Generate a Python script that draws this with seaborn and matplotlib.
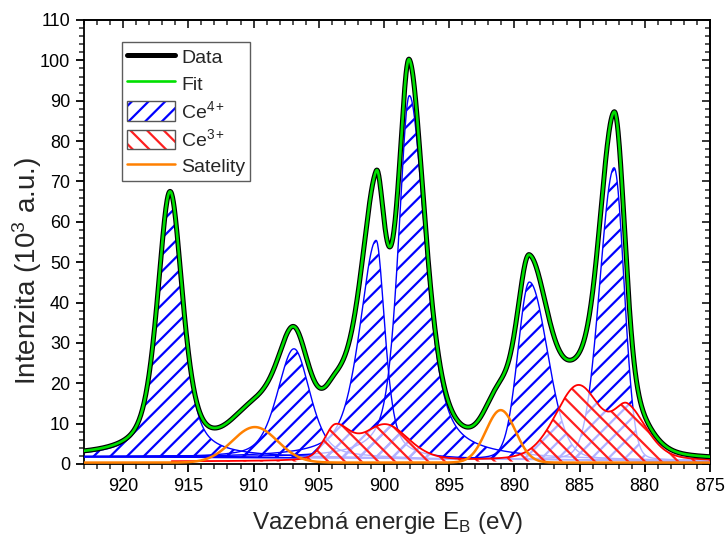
import numpy as np
import pandas as pd
import matplotlib
matplotlib.use("Agg")
import matplotlib.pyplot as plt
import seaborn as sns
from matplotlib.lines import Line2D
from matplotlib.patches import Patch
from matplotlib.legend_handler import HandlerTuple
from matplotlib.ticker import MultipleLocator, NullFormatter

# ---------------- data ----------------
# Ce4+ components (u''', u'', u, v''', v'', v): centre (eV), height (10^3 a.u.),
# half widths on the high-BE / low-BE side, Lorentzian fraction
ce4_center = [916.4, 906.9, 900.6, 898.05, 888.85, 882.35]
ce4_height = [65.0, 27.0, 54.0, 90.0, 44.0, 72.5]
ce4_hw_high = [1.15, 1.5, 1.5, 1.0, 1.05, 1.3]
ce4_hw_low = [1.15, 1.45, 0.8, 1.45, 1.65, 0.9]
ce4_eta = [0.58, 0.45, 0.6, 0.6, 0.15, 0.1]

# Ce3+ components (u', u0, v', v0)
ce3_center = [903.75, 899.9, 885.1, 881.3]
ce3_height = [8.0, 8.9, 18.6, 11.7]
ce3_hw_high = [1.0, 2.1, 2.1, 1.2]
ce3_hw_low = [1.3, 2.1, 2.1, 1.75]
ce3_eta = [0.3, 0.3, 0.3, 0.3]

# satellites
sat_center = [909.9, 891.05]
sat_height = [8.8, 13.0]
sat_hw = [2.05, 1.33]

# baselines
bg_low_be, bg_high_be = 0.8, 1.75   # Shirley end points (875 / 923 eV)
ce3_base = 0.6
sat_base = 0.35
ce3_limit = 916.3

x_ticks = [920, 915, 910, 905, 900, 895, 890, 885, 880, 875]
y_ticks = list(range(0, 111, 10))

# ---------------- model curves ----------------
E = np.linspace(923, 875, 1500)


def pv(e, c, h, wh, wl, eta):
    w = np.where(e >= c, wh, wl)
    x = (e - c) / w
    return h * (eta / (1 + x ** 2) + (1 - eta) * np.exp(-np.log(2) * x ** 2))


ce4 = [pv(E, *p) for p in zip(ce4_center, ce4_height, ce4_hw_high, ce4_hw_low, ce4_eta)]
ce3 = [pv(E, *p) for p in zip(ce3_center, ce3_height, ce3_hw_high, ce3_hw_low, ce3_eta)]
sat = [pv(E, c, h, w, w, 0.0) for c, h, w in zip(sat_center, sat_height, sat_hw)]

peaks = np.sum(ce4, axis=0) + np.sum(ce3, axis=0) + np.sum(sat, axis=0)
# Shirley-type background (integral from the low-BE side)
cum = np.cumsum(peaks[::-1])[::-1]
bg = bg_low_be + (bg_high_be - bg_low_be) * cum / cum[0]

fit = bg + peaks
data = fit.copy()
ce3_sum = np.sum(ce3, axis=0)
ce3_curve = np.where(E <= ce3_limit, ce3_base + ce3_sum, np.nan)
sat_curve = sat_base + np.sum(sat, axis=0)

# ---------------- styling ----------------
sns.set_theme(style="ticks")
plt.rcParams["font.family"] = ["Liberation Sans", "DejaVu Sans"]
plt.rcParams["mathtext.fontset"] = "custom"
plt.rcParams["mathtext.rm"] = "Liberation Sans"
plt.rcParams["mathtext.it"] = "Liberation Sans:italic"
plt.rcParams["hatch.linewidth"] = 1.6

BLUE = "#0000ff"
RED = "#ff2020"
ORANGE = "#ff8000"
GREEN = "#00e000"

fig = plt.figure(figsize=(7.25, 5.36), dpi=100)
ax = fig.add_axes([84 / 725, 1 - 464 / 536, (710 - 84) / 725, (464 - 20) / 536])

# Ce4+ components: hatched, outlined
for comp in ce4:
    top = bg + comp
    ax.fill_between(E, bg, top, where=comp > 0.02, facecolor="none",
                    edgecolor=BLUE, hatch="//", linewidth=0, zorder=2)
    sns.lineplot(x=E, y=top, ax=ax, color=BLUE, lw=1.0, sort=False,
                 estimator=None, zorder=3)

# Ce3+ envelope: semi-transparent white with red hatch
mask = E <= ce3_limit
ax.fill_between(E[mask], ce3_base, ce3_curve[mask], facecolor=(1, 1, 1, 0.7),
                edgecolor=RED, hatch="\\\\", linewidth=0, zorder=4)
sns.lineplot(x=E[mask], y=ce3_curve[mask], ax=ax, color="red", lw=1.3,
             sort=False, estimator=None, zorder=5)

# satellites
sns.lineplot(x=E, y=sat_curve, ax=ax, color=ORANGE, lw=1.8, sort=False,
             estimator=None, zorder=6)

# data and fit
sns.lineplot(x=E, y=data, ax=ax, color="black", lw=3.6, sort=False,
             estimator=None, zorder=7)
sns.lineplot(x=E, y=fit, ax=ax, color=GREEN, lw=1.9, sort=False,
             estimator=None, zorder=8)

ax.set_xlim(923, 875)
ax.set_ylim(0, 110)
ax.set_xticks(x_ticks)
ax.set_yticks(y_ticks)
ax.xaxis.set_minor_locator(MultipleLocator(1))
ax.yaxis.set_minor_locator(MultipleLocator(2))
ax.tick_params(which="major", direction="out", length=6, width=1.3,
               labelsize=13, colors="black", pad=4)
ax.tick_params(which="minor", direction="out", length=3.5, width=1.1)
for s in ax.spines.values():
    s.set_linewidth(1.3)
    s.set_color("black")

secx = ax.secondary_xaxis("top")
secx.set_xticks(x_ticks)
secx.xaxis.set_minor_locator(MultipleLocator(1))
secx.xaxis.set_major_formatter(NullFormatter())
secx.tick_params(which="major", direction="in", length=6, width=1.3)
secx.tick_params(which="minor", direction="in", length=3.5, width=1.1)
secx.spines["top"].set_linewidth(1.3)

secy = ax.secondary_yaxis("right")
secy.set_yticks(y_ticks)
secy.yaxis.set_minor_locator(MultipleLocator(2))
secy.yaxis.set_major_formatter(NullFormatter())
secy.tick_params(which="major", direction="in", length=6, width=1.3)
secy.tick_params(which="minor", direction="in", length=3.5, width=1.1)
secy.spines["right"].set_linewidth(1.3)

ax.set_xlabel(r"Vazebná energie E$_\mathregular{B}$ (eV)", fontsize=17.5)
ax.set_ylabel(r"Intenzita (10$^\mathregular{3}$ a.u.)", fontsize=20)
ax.xaxis.set_label_coords((387.5 - 84) / 626, (464 - 510) / 444)
ax.yaxis.set_label_coords((44 - 84) / 626, (464 - 271) / 444)

# legend
h_data = Line2D([], [], color="black", lw=3.6)
h_fit = Line2D([], [], color=GREEN, lw=1.9)
h_ce4 = (Patch(facecolor="none", edgecolor=BLUE, hatch="//", lw=0),
         Patch(facecolor="none", edgecolor="#555555", lw=1.0))
h_ce3 = (Patch(facecolor="none", edgecolor=RED, hatch="\\\\", lw=0),
         Patch(facecolor="none", edgecolor="#555555", lw=1.0))
h_sat = Line2D([], [], color=ORANGE, lw=1.8)
leg = ax.legend([h_data, h_fit, h_ce4, h_ce3, h_sat],
                ["Data", "Fit", r"Ce$^\mathregular{4+}$", r"Ce$^\mathregular{3+}$", "Satelity"],
                handler_map={tuple: HandlerTuple(ndivide=1)},
                loc="upper left", bbox_to_anchor=(38 / 626, (464 - 42) / 444),
                borderaxespad=0, fontsize=14,
                frameon=True, fancybox=False, edgecolor="#333333",
                handlelength=2.5, handleheight=1.15, labelspacing=0.32,
                handletextpad=0.3, borderpad=0.25)
leg.get_frame().set_linewidth(1.0)
leg.set_zorder(20)

fig.savefig("out.png", dpi=100)
